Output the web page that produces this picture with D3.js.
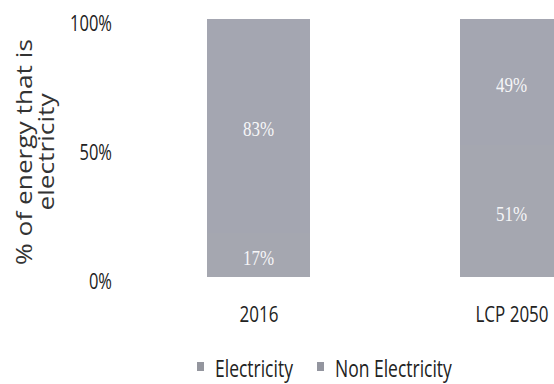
<!DOCTYPE html>
<html>
<head>
<meta charset="utf-8">
<script src="https://cdn.jsdelivr.net/npm/d3@7"></script>
<style>
  html, body { margin: 0; padding: 0; background: #ffffff; }
  svg { display: block; }
  text { font-family: "Open Sans", sans-serif; }
</style>
</head>
<body>
<svg id="chart" width="554" height="384"></svg>
<script>
// Share of final energy that is electricity, stacked to 100%
const categories = ["2016", "LCP 2050"];
const seriesNames = ["Electricity", "Non Electricity"];
const electricity = [0.17, 0.51];
const nonElectricity = [0.83, 0.49];
const yTicks = [0, 0.5, 1];
const yTickLabels = ["0%", "50%", "100%"];
const yTitle = ["% of energy that is", "electricity"];

const colors = { "Electricity": "#a5a7b0", "Non Electricity": "#a4a6b1" };
const textStretch = 1.3; // tall, slightly condensed lettering

const rows = categories.map((c, i) => ({
  category: c,
  "Electricity": electricity[i],
  "Non Electricity": nonElectricity[i]
}));

const svg = d3.select("#chart");

const x = d3.scalePoint().domain(categories).range([258.5, 511.5]);
const barWidth = 103;
const y = d3.scaleLinear().domain([0, 1]).range([277, 19]);

const layers = d3.stack().keys(seriesNames)(rows);

// Stacked bars
const g = svg.append("g");
layers.forEach(layer => {
  g.selectAll(null)
    .data(layer)
    .join("rect")
    .attr("x", d => x(d.data.category) - barWidth / 2)
    .attr("y", d => Math.round(y(d[1])))
    .attr("width", barWidth)
    .attr("height", d => Math.round(y(d[0])) - Math.round(y(d[1])))
    .attr("shape-rendering", "crispEdges")
    .attr("fill", colors[layer.key]);
});

// Value labels inside each segment
layers.forEach(layer => {
  g.selectAll(null)
    .data(layer)
    .join("g")
    .attr("transform", d => `translate(${x(d.data.category)},${(y(d[0]) + y(d[1])) / 2 + 5}) scale(1,1.2)`)
    .append("text")
    .attr("text-anchor", "middle")
    .attr("dominant-baseline", "middle")
    .style("font-family", "'Liberation Serif', serif")
    .style("font-size", "17px")
    .attr("fill", "#f6f6f8")
    .text(d => Math.round((d[1] - d[0]) * 100) + "%");
});

// Y axis: labels only
const yAxis = d3.axisLeft(y)
  .tickValues(yTicks)
  .tickFormat((d, i) => yTickLabels[i])
  .tickSize(0)
  .tickPadding(0);
const yAxisG = svg.append("g")
  .attr("transform", "translate(112,5)")
  .call(yAxis);
yAxisG.select(".domain").remove();
yAxisG.selectAll("text")
  .attr("transform", `scale(1,${textStretch})`)
  .style("font-family", "'Open Sans', sans-serif")
  .style("font-size", "16.5px")
  .attr("fill", "#222");

// X axis: category labels only
const xAxis = d3.axisBottom(x).tickSize(0).tickPadding(0);
const xAxisG = svg.append("g")
  .attr("transform", "translate(0,306)")
  .call(xAxis);
xAxisG.select(".domain").remove();
xAxisG.selectAll("text")
  .attr("transform", `scale(1,${textStretch})`)
  .style("font-family", "'Open Sans', sans-serif")
  .style("font-size", "17px")
  .attr("fill", "#222");

// Rotated y-axis title on two lines
const title = svg.append("text")
  .attr("transform", "translate(25,152) rotate(-90) scale(1.25,1)")
  .attr("text-anchor", "middle")
  .style("font-size", "21px")
  .attr("fill", "#333");
title.selectAll("tspan")
  .data(yTitle)
  .join("tspan")
  .attr("x", 0)
  .attr("dy", (d, i) => i === 0 ? "0.35em" : "1.05em")
  .text(d => d);

// Legend
const legendX = [197, 317];
const legend = svg.append("g");
seriesNames.forEach((name, i) => {
  legend.append("rect")
    .attr("x", legendX[i])
    .attr("y", 362)
    .attr("width", 7)
    .attr("height", 9)
    .attr("fill", d3.color(colors[name]).darker(0.3));
  legend.append("g")
    .attr("transform", `translate(${legendX[i] + 18},371) scale(1,${textStretch})`)
    .append("text")
    .attr("dominant-baseline", "middle")
    .style("font-size", "17.5px")
    .attr("fill", "#222")
    .text(name);
});
</script>
</body>
</html>
